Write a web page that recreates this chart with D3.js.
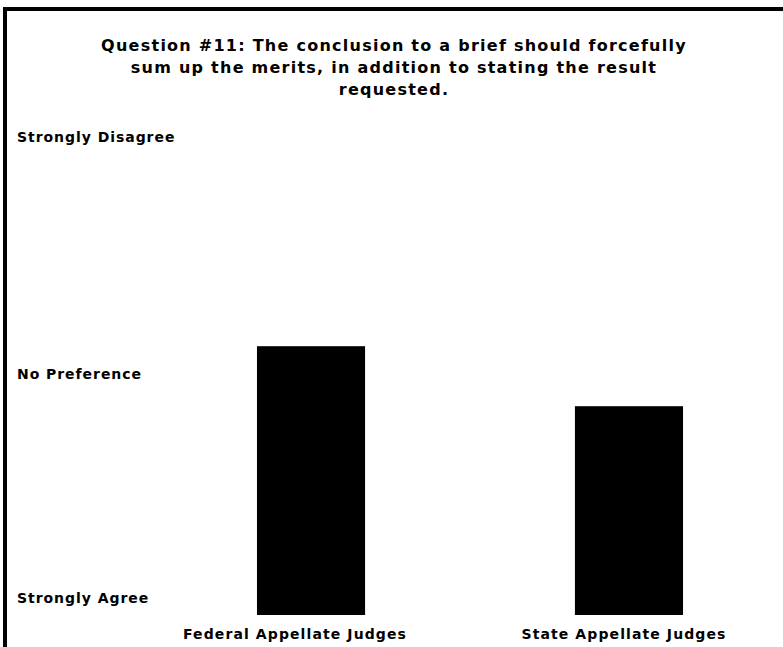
<!DOCTYPE html>
<html>
<head>
<meta charset="utf-8">
<script src="https://cdn.jsdelivr.net/npm/d3@7"></script>
<style>
  html, body { margin: 0; padding: 0; background: #fff; overflow: hidden; }
  svg text { font-family: Verdana, "DejaVu Sans", sans-serif; font-weight: bold; fill: #000; }
</style>
</head>
<body>
<svg id="chart" width="783" height="647"></svg>
<script>
// chart data
const titleLines = [
  "Question #11: The conclusion to a brief should forcefully",
  "sum up the merits, in addition to stating the result",
  "requested."
];
const categories = ["Federal Appellate Judges", "State Appellate Judges"];
const values = [3.24, 2.74];          // 1 = Strongly Agree, 5 = Strongly Disagree
const tickValues = [5, 3, 1];
const tickLabels = ["Strongly Disagree", "No Preference", "Strongly Agree"];

const svg = d3.select('#chart');

// frame, runs off the right and bottom of the window
svg.append('rect')
  .attr('x', 5).attr('y', 9)
  .attr('width', 900).attr('height', 800)
  .attr('fill', 'none')
  .attr('stroke', '#000')
  .attr('stroke-width', 4);

svg.append('g')
  .selectAll('text')
  .data(titleLines)
  .join('text')
  .attr('x', 394)
  .attr('y', (d, i) => 45 + i * 22)
  .attr('dy', '0.35em')
  .attr('text-anchor', 'middle')
  .style('font-size', '16px')
  .style('letter-spacing', '1.25px')
  .text(d => d);

const y = d3.scaleLinear().domain([1, 5]).range([615, 135]);
const x = d3.scaleBand().domain(categories).range([98, 842])
  .paddingInner(0.66).paddingOuter(0.5);

// labels sit a little off the bar positions in the original
const yLabel = d3.scaleLinear().domain([1, 3, 5]).range([598, 374, 137]);
const xLabel = d3.scalePoint().domain(categories).range([295, 624]);

svg.append('g')
  .selectAll('rect')
  .data(values)
  .join('rect')
  .attr('x', (d, i) => x(categories[i]))
  .attr('width', x.bandwidth())
  .attr('y', d => y(d))
  .attr('height', d => y(1) - y(d))
  .attr('fill', '#000');

svg.append('g')
  .selectAll('text')
  .data(tickValues)
  .join('text')
  .attr('x', 17)
  .attr('y', d => yLabel(d))
  .attr('dy', '0.35em')
  .style('font-size', '14px')
  .style('letter-spacing', '0.95px')
  .text((d, i) => tickLabels[i]);

svg.append('g')
  .selectAll('text')
  .data(categories)
  .join('text')
  .attr('x', d => xLabel(d))
  .attr('y', 634)
  .attr('dy', '0.35em')
  .attr('text-anchor', 'middle')
  .style('font-size', '14px')
  .style('letter-spacing', '1.1px')
  .text(d => d);
</script>
</body>
</html>
